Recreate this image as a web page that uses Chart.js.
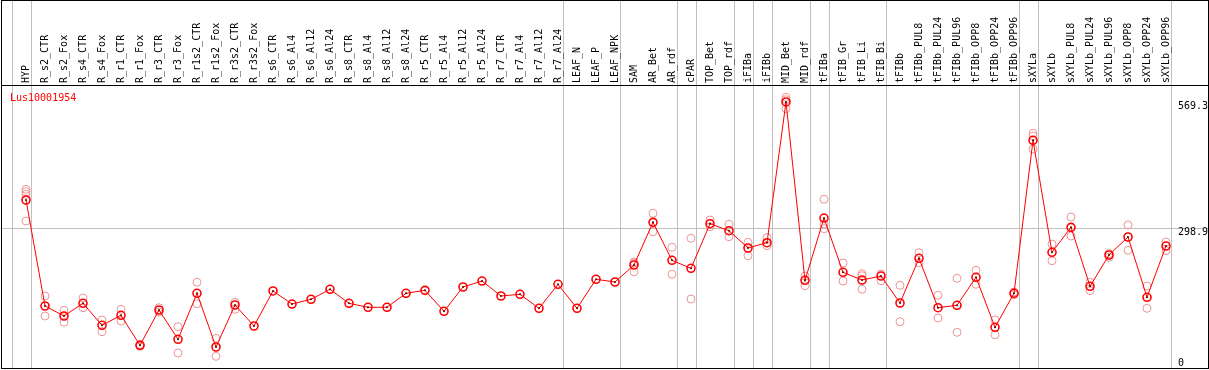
<!DOCTYPE html>
<html>
<head>
<meta charset="utf-8">
<script src="https://cdn.jsdelivr.net/npm/chart.js@4/dist/chart.umd.min.js"></script>
<style>
  body { margin: 0; background: #fff; }
  canvas { display: block; }
</style>
</head>
<body>
<canvas id="myChart" width="1209" height="370"></canvas>
<script>

// categorias (columnas de la cabecera)
var categorias = ['HYP', 'R_s2_CTR', 'R_s2_Fox', 'R_s4_CTR', 'R_s4_Fox', 'R_r1_CTR', 'R_r1_Fox', 'R_r3_CTR', 'R_r3_Fox',
  'R_r1s2_CTR', 'R_r1s2_Fox', 'R_r3s2_CTR', 'R_r3s2_Fox', 'R_s6_CTR', 'R_s6_Al4', 'R_s6_Al12', 'R_s6_Al24',
  'R_s8_CTR', 'R_s8_Al4', 'R_s8_Al12', 'R_s8_Al24', 'R_r5_CTR', 'R_r5_Al4', 'R_r5_Al12', 'R_r5_Al24',
  'R_r7_CTR', 'R_r7_Al4', 'R_r7_Al12', 'R_r7_Al24', 'LEAF_N', 'LEAF_P', 'LEAF_NPK', 'SAM', 'AR_Bet', 'AR_rdf',
  'cPAR', 'TOP_Bet', 'TOP_rdf', 'iFIBa', 'iFIBb', 'MID_Bet', 'MID_rdf', 'tFIBa', 'tFIB_Gr', 'tFIB_Li', 'tFIB_Bi',
  'tFIBb', 'tFIBb_PUL8', 'tFIBb_PUL24', 'tFIBb_PUL96', 'tFIBb_OPP8', 'tFIBb_OPP24', 'tFIBb_OPP96',
  'sXYLa', 'sXYLb', 'sXYLb_PUL8', 'sXYLb_PUL24', 'sXYLb_PUL96', 'sXYLb_OPP8', 'sXYLb_OPP24', 'sXYLb_OPP96'];

// promedio por muestra
var promedios = [359.5, 132.7, 111.3, 138.4, 91.4, 112.8, 48.6, 124.1, 61.4, 159.8, 44.9, 134.8, 89.9,
  164.8, 136.9, 147.0, 168.4, 138.4, 129.9, 129.9, 159.8, 166.2, 121.3, 173.3, 186.1, 154.1, 157.7, 127.7, 179.1,
  127.7, 189.8, 184.0, 220.4, 311.7, 230.4, 213.3, 308.7, 293.8, 256.8, 268.1, 569.3, 187.6,
  320.9, 204.8, 188.3, 196.8, 139.1, 234.7, 129.0, 134.2, 194.1, 87.1, 159.8,
  487.2, 247.6, 301.0, 174.8, 241.8, 280.3, 151.3, 261.0];

// replicas
var rep1 = [382.3, 154.1, 123.5, 149.8, 102.7, 125.6, 50.5, 129.0, 88.4, 183.4, 63.5, 140.6, null,
  null, null, null, null, null, null, null, null, null, null, null, null, null, null, null, null,
  null, null, null, 227.0, 331.0, 258.3, 277.5, 316.7, 307.5, 268.9, 278.8, 579.2, 196.8,
  361.0, 224.7, 201.8, 201.1, 176.9, 246.7, 155.5, 191.9, 209.0, 102.7, 162.6,
  502.2, 265.3, 323.1, 183.4, 244.6, 306.0, 175.4, 269.6];
var rep2 = [377.2, 111.3, 97.8, 129.0, 77.7, 100.6, 46.7, 119.8, 32.1, 137.6, 25.0, 125.6, null,
  null, null, null, null, null, null, null, null, null, null, null, null, null, null, null, null,
  null, null, null, 224.5, 291.6, 200.5, 147.6, 302.3, 280.9, 240.3, 261.7, 574.0, 176.1,
  308.1, 186.1, 197.5, 186.8, 99.1, 225.3, 107.0, 76.4, 179.1, 71.2, 156.8,
  496.4, 229.6, 282.4, 165.4, 236.9, 251.8, 127.7, 251.0];
var rep3 = [371.7, null, null, null, null, null, null, null, null, null, null, null, null,
  null, null, null, null, null, null, null, null, null, null, null, null, null, null, null, null,
  null, null, null, 206.0, null, null, null, null, null, null, null, 555.0, null,
  298.0, null, 168.4, null, null, null, null, null, null, null, null,
  468.6, null, null, null, null, null, null, null];
var rep4 = [314.5];

// marcas del eje derecho y fin de cada grupo de columnas
var marcasY = [0, 298.9, 569.3];
var finGrupos = [-1, 0, 28, 31, 34, 35, 37, 38, 39, 41, 42, 45, 52, 53, 60];
var nombreGen = 'Lus10001954';

var fuente = '10px "DejaVu Sans Mono", monospace';

function puntos(arr) {
  var out = [];
  arr.forEach((v, i) => {
    if (v !== null && v !== undefined) out.push({ x: i, y: v });
  });
  return out;
}

function replica(arr) {
  return {
    label: 'rep',
    data: puntos(arr),
    showLine: false,
    pointRadius: 4,
    pointBorderWidth: 1,
    pointBorderColor: 'rgb(238,150,150)',
    pointBackgroundColor: 'rgba(0,0,0,0)'
  };
}

var marco = {
  id: 'marco',
  beforeDraw(chart) {
    var ctx = chart.ctx;
    ctx.save();
    ctx.fillStyle = '#fff';
    ctx.fillRect(0, 0, chart.width, chart.height);
    ctx.restore();
  },
  beforeDatasetsDraw(chart) {
    var ctx = chart.ctx, xs = chart.scales.x, area = chart.chartArea;
    ctx.save();
    ctx.strokeStyle = '#c0c0c0';
    ctx.lineWidth = 1;
    finGrupos.forEach(g => {
      var px = Math.round(xs.getPixelForValue(g + 0.25)) + 0.5;
      ctx.beginPath();
      ctx.moveTo(px, 0);
      ctx.lineTo(px, area.bottom);
      ctx.stroke();
    });
    ctx.restore();
  },
  afterDraw(chart) {
    var ctx = chart.ctx, xs = chart.scales.x, ys = chart.scales.y, area = chart.chartArea;
    ctx.save();
    ctx.font = fuente;
    ctx.fillStyle = '#000';

    // etiquetas giradas de la cabecera
    categorias.forEach((c, i) => {
      ctx.save();
      ctx.translate(xs.getPixelForValue(i), area.top - 3);
      ctx.rotate(-Math.PI / 2);
      ctx.textAlign = 'left';
      ctx.textBaseline = 'middle';
      ctx.fillText(c, 0, 0);
      ctx.restore();
    });

    // valores del eje derecho
    ctx.textAlign = 'left';
    ctx.textBaseline = 'alphabetic';
    marcasY.forEach(v => {
      var py = Math.min(ys.getPixelForValue(v) + 7, area.bottom - 2);
      ctx.fillText(String(v), area.right - 30, py);
    });

    ctx.fillStyle = 'red';
    ctx.fillText(nombreGen, 10, area.top + 15);

    // bordes
    ctx.strokeStyle = '#000';
    ctx.lineWidth = 1;
    ctx.strokeRect(1.5, 0.5, chart.width - 2, area.bottom);
    ctx.beginPath();
    ctx.moveTo(1, area.top - 0.5);
    ctx.lineTo(chart.width, area.top - 0.5);
    ctx.stroke();
    ctx.restore();
  }
};

var config = {
  type: 'line',
  data: {
    datasets: [
      {
        label: 'centro',
        data: puntos(promedios),
        showLine: false,
        pointRadius: 1,
        pointBorderWidth: 0,
        pointBackgroundColor: '#600'
      },
      {
        label: nombreGen,
        data: puntos(promedios),
        borderColor: 'red',
        borderWidth: 1,
        lineTension: 0,
        pointRadius: 4,
        pointBorderWidth: 1.6,
        pointBorderColor: 'red',
        pointBackgroundColor: 'rgba(255,255,255,0)'
      },
      replica(rep1),
      replica(rep2),
      replica(rep3),
      replica(rep4)
    ]
  },
  options: {
    responsive: false,
    animation: false,
    layout: { autoPadding: false, padding: { top: 86, left: 1, right: 1, bottom: 2 } },
    plugins: { legend: { display: false }, tooltip: { enabled: false } },
    scales: {
      x: {
        type: 'linear',
        display: false,
        min: -1.316,
        max: 62.21
      },
      y: {
        position: 'right',
        min: 0,
        max: 603.4,
        afterBuildTicks: (s) => { s.ticks = marcasY.map(v => ({ value: v })); },
        afterFit: (s) => { s.width = 0; },
        ticks: { display: false },
        border: { display: false },
        grid: {
          drawTicks: false,
          color: (c) => (c.tick && c.tick.value === 298.9) ? '#c0c0c0' : 'rgba(0,0,0,0)'
        }
      }
    }
  },
  plugins: [marco]
};

var myChart = new Chart(document.getElementById('myChart'), config);
</script>
</body>
</html>
